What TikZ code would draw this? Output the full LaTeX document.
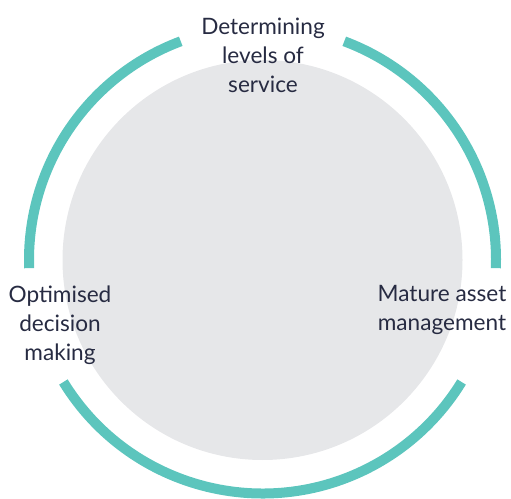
\documentclass[tikz,border=0pt]{standalone}
\usepackage{fontspec}
\setmainfont{Lato}
\definecolor{ringteal}{HTML}{5CC5BD}
\definecolor{discgrey}{HTML}{E6E7E9}
\definecolor{labelnavy}{HTML}{272B42}
\tikzset{
  ring/.style={ringteal, line width=10pt},
  steplabel/.style={text=labelnavy, align=center, font=\fontsize{22.6}{29}\selectfont, inner sep=0pt}
}
\begin{document}
\begin{tikzpicture}[x=1pt,y=1pt]
				\useasboundingbox (0,0) rectangle (511,498);
				\coordinate (c) at (262.5,238);
				\fill[discgrey] (c) circle (200);
				\draw[ring] (c) ++(110.5:233.5) arc (110.5:182:233.5);
				\draw[ring] (c) ++(211.5:233.5) arc (211.5:328.5:233.5);
				\draw[ring] (c) ++(-2:233.5) arc (-2:69.5:233.5);
				\node[steplabel] (levels) at (263,443) {Determining\\levels of\\service};
				\node[steplabel] (optimised) at (60,173) {Optimised\\decision\\making};
				\node[steplabel] (mature) at (442,188) {Mature asset\\management};
			\end{tikzpicture}
\end{document}
